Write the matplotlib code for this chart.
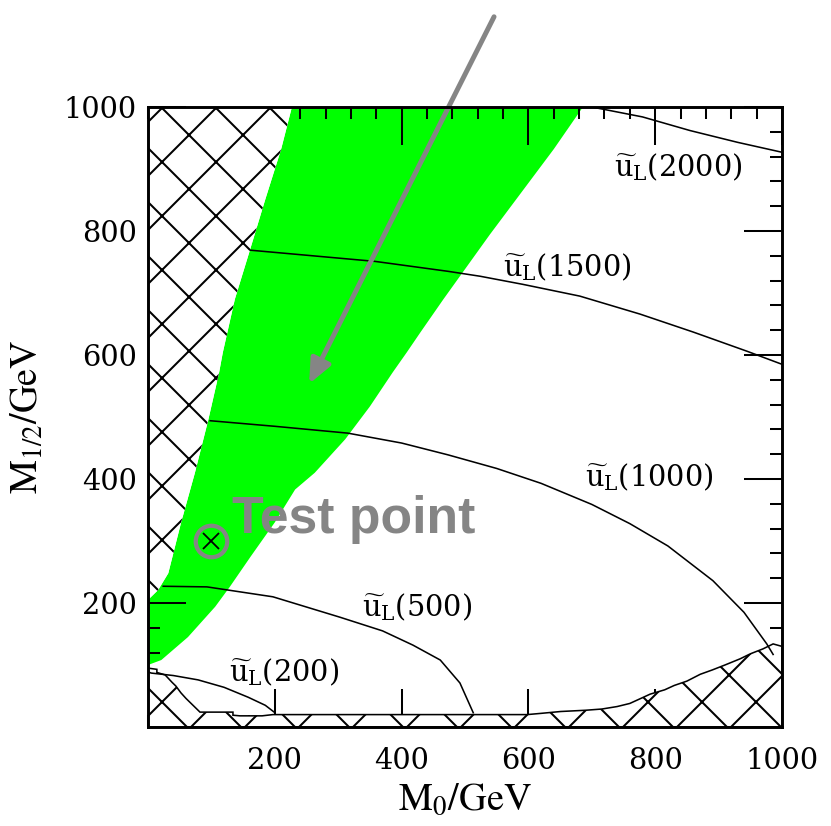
import matplotlib
matplotlib.use("Agg")
import matplotlib.pyplot as plt
from matplotlib.patches import Polygon, FancyArrowPatch
from matplotlib.ticker import MultipleLocator

# ---- data (M0, M1/2 in GeV) ----
# excluded region at small M0 (upper left)
excl_left = [(0, 1000), (227, 1000), (210, 932), (185, 851), (161, 770),
             (137, 690), (118, 604), (112, 571), (95, 495), (74, 410),
             (52, 329), (32, 248), (16, 221), (0, 205)]
# right edge of the allowed (green) band, bottom to top
band_right = [(0, 100), (21, 108), (63, 145), (106, 194), (129, 226),
              (162, 275), (200, 330), (232, 383), (263, 410), (311, 464),
              (350, 517), (386, 572), (408, 604), (430, 637), (466, 690),
              (539, 794), (640, 932), (686, 1000)]
# excluded region along the bottom edge
excl_bottom = [(0, 95), (14, 93), (14, 88), (27, 84), (38, 72), (44, 66),
               (52, 55), (60, 46), (74, 32), (82, 24), (134, 24), (134, 19),
               (145, 18), (180, 18), (197, 20), (400, 20), (598, 20),
               (620, 22), (651, 25), (690, 27), (716, 29), (740, 33),
               (760, 38), (775, 45), (792, 53), (815, 60), (830, 67),
               (850, 74), (871, 85), (890, 92), (910, 100), (934, 110),
               (950, 118), (970, 126), (986, 134), (1000, 130),
               (1000, 0), (0, 0)]

# squark mass contours m(u_L) in GeV
contour_masses = [200, 500, 1000, 1500, 2000]
contour_m0 = {
    200: [0, 5, 40, 79, 120, 158, 185, 199],
    500: [24, 93, 197, 303, 370, 418, 461, 492, 513],
    1000: [98, 200, 315, 400, 473, 550, 620, 700, 760, 820, 891, 940, 976, 986],
    1500: [162, 358, 473, 524, 591, 681, 776, 860, 945, 1000],
    2000: [700, 780, 855, 930, 1000],
}
contour_m12 = {
    200: [89, 87, 83, 76, 64, 48, 35, 24],
    500: [227, 226, 210, 177, 155, 132, 108, 71, 23],
    1000: [494, 485, 474, 458, 439, 417, 393, 359, 328, 292, 236, 185, 134, 117],
    1500: [769, 751, 735, 727, 714, 695, 666, 637, 606, 585],
    2000: [1000, 984, 962, 943, 927],
}
label_pos = {200: (128, 89), 500: (338, 194), 1000: (689, 403),
             1500: (560, 742), 2000: (735, 903)}

test_point = (100, 300)
arrow_start = (549, 1152)
arrow_end = (251, 547)

xticks = [200, 400, 600, 800, 1000]
yticks = [200, 400, 600, 800, 1000]

# ---- figure ----
DPI = 162
GREY = "#858585"
plt.rcParams["hatch.linewidth"] = 0.9
plt.rcParams["mathtext.fontset"] = "dejavuserif"

fig = plt.figure(figsize=(831 / DPI, 826 / DPI), dpi=DPI)
ax = fig.add_axes([148 / 831, 99 / 826, 634 / 831, 620 / 826])
ax.set_xlim(0, 1000)
ax.set_ylim(0, 1000)

# allowed band: excluded-region edge going down, then its own right edge going up
green_poly = excl_left[1:] + band_right
ax.add_patch(Polygon(green_poly, closed=True, facecolor="#00ff00",
                     edgecolor="none", zorder=1))

# excluded regions
ax.add_patch(Polygon(excl_left, closed=True, facecolor="white",
                     edgecolor="black", linewidth=0, hatch="x", zorder=2))
ax.add_patch(Polygon(excl_bottom, closed=True, facecolor="white",
                     edgecolor="black", linewidth=0.7, hatch="x", zorder=2))

# contours and their labels
for m in contour_masses:
    ax.plot(contour_m0[m], contour_m12[m], color="black", lw=0.7, zorder=3)
    x, y = label_pos[m]
    ax.text(x, y, r"$\widetilde{\mathrm{u}}_{\mathrm{L}}$(%d)" % m,
            fontsize=12.8, family="DejaVu Serif", ha="left", va="center",
            math_fontfamily="dejavuserif", zorder=4)

# test point
ax.plot(*test_point, marker="o", ms=14, mfc="none", mec=GREY,
        mew=1.9, zorder=5)
ax.plot(*test_point, marker="x", ms=7.5, color="black", mew=0.8, zorder=6)
ax.text(test_point[0] + 32, 313, "Test point",
        fontsize=23, fontweight="bold", family="Liberation Sans",
        color=GREY, ha="left", va="baseline", zorder=6)

arrow = FancyArrowPatch(arrow_start, arrow_end,
                        arrowstyle="-|>,head_length=0.5,head_width=0.22",
                        mutation_scale=18, color=GREY, lw=2.2,
                        clip_on=False, zorder=7)
ax.add_patch(arrow)

# axes styling
for s in ax.spines.values():
    s.set_linewidth(1.3)
    s.set_zorder(8)
ax.set_xticks(xticks)
ax.set_yticks(yticks)
ax.xaxis.set_minor_locator(MultipleLocator(40))
ax.yaxis.set_minor_locator(MultipleLocator(40))
ax.tick_params(which="both", direction="in", top=True, right=True,
               width=0.9, zorder=8)
ax.tick_params(which="major", length=17, labelsize=12.8)
ax.tick_params(which="minor", length=5.3)
ax.tick_params(axis="x", which="major", pad=9)
ax.tick_params(axis="y", which="major", pad=5)
for lab in ax.get_xticklabels() + ax.get_yticklabels():
    lab.set_family("DejaVu Serif")

ax.set_xlabel(r"$\mathrm{M_0/GeV}$", fontsize=17, labelpad=3)
ax.set_ylabel(r"$\mathrm{M_{1/2}/GeV}$", fontsize=17, labelpad=8)
ax.xaxis.label.set_math_fontfamily("stix")
ax.yaxis.label.set_math_fontfamily("stix")

fig.savefig("out.png", dpi=DPI)
